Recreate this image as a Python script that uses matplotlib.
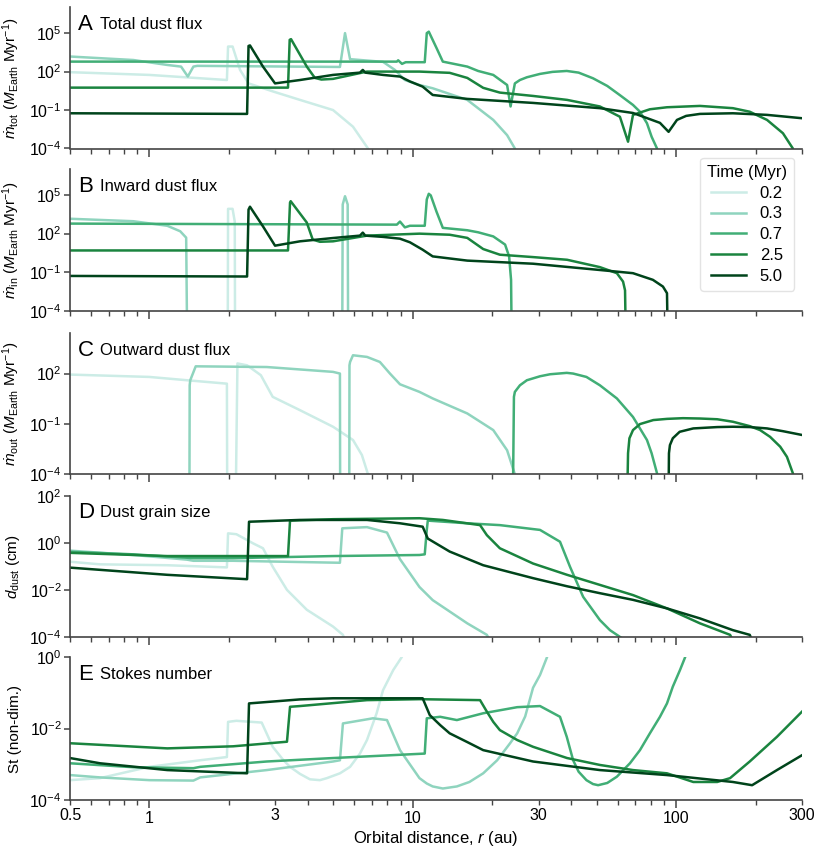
import matplotlib
matplotlib.use('Agg')
import matplotlib.pyplot as plt
from matplotlib.ticker import NullLocator, LogFormatterMathtext

plt.rcParams['font.family'] = ['Liberation Sans', 'DejaVu Sans']
plt.rcParams['mathtext.fontset'] = 'custom'
plt.rcParams['mathtext.rm'] = 'Liberation Sans'
plt.rcParams['mathtext.it'] = 'Liberation Sans:italic'
plt.rcParams['mathtext.bf'] = 'Liberation Sans:bold'

times = ['0.2', '0.3', '0.7', '2.5', '5.0']
colors = ['#ccece6', '#8fd4be', '#41ae76', '#1a843f', '#00441b']

# A: total dust flux (M_Earth / Myr)
r_tot_02 = [0.5, 1.0, 1.97, 1.99, 2.07, 2.21, 2.38, 2.95, 3.73, 4.98, 5.93, 6.76, 6.94]
tot_02 = [90, 55, 22, 9000, 9000, 135, 12, 2.8, 0.62, 0.1, 5e-3, 1e-4, 1e-5]
r_tot_03 = [0.5, 0.87, 1.17, 1.32, 1.40, 1.47, 1.52, 5.29, 5.53, 5.78, 7.71, 8.55, 9.33,
            10.6, 11.9, 16.1, 20.2, 22.8, 24.4, 25.0]
tot_03 = [1500, 800, 330, 245, 41, 245, 280, 230, 1e5, 930, 575, 135, 22,
          9, 5, 0.62, 0.017, 1.1e-3, 1e-4, 1e-5]
r_tot_07 = [0.5, 8.7, 8.8, 9.1, 9.4, 11.1, 11.3, 11.5, 12.3, 13.0, 16.1, 17.7, 20.2, 22.8,
            23.5, 24.4, 25.5, 27.1, 30.4, 33.9, 38.4, 42.6, 48.3, 54.7, 61.1, 68.5, 72.8,
            77.4, 80.6, 84.5, 86.0]
tot_07 = [600, 600, 760, 400, 540, 540, 1e5, 1.3e5, 7000, 600, 245, 112, 55, 9,
          0.19, 12, 22, 36, 66, 95, 112, 83, 30, 7.6, 1.45, 0.25, 0.074,
          9.3e-3, 8.3e-4, 1e-4, 1e-5]
r_tot_25 = [0.5, 3.36, 3.41, 3.45, 3.96, 4.25, 4.5, 4.98, 6.7, 10.6, 13.8, 16.1, 18.5, 21.4,
            28.6, 38.5, 51.3, 61.1, 65.6, 68.5, 79.4, 92.2, 123, 164, 190, 221, 254, 277, 282]
tot_25 = [5.6, 5.6, 3e4, 3.4e4, 245, 32, 24, 27, 100, 100, 80, 32, 5.4, 2.3,
          1.26, 0.62, 0.19, 0.03, 3.4e-4, 0.042, 0.115, 0.165, 0.21, 0.14, 0.074, 0.017,
          1.55e-3, 1e-4, 1e-5]
r_tot_50 = [0.5, 2.35, 2.38, 2.41, 2.70, 3.0, 3.73, 4.98, 6.3, 6.46, 6.6, 7.71, 8.94, 9.75,
            10.9, 11.9, 16.1, 28.6, 51.3, 68.5, 86.7, 93.5, 100.6, 109, 123, 164, 221, 300]
tot_50 = [0.056, 0.05, 1e4, 1.1e4, 245, 12, 22, 55, 83, 135, 83, 55, 41, 17,
          6.7, 1.5, 0.74, 0.36, 0.14, 0.059, 0.01, 2e-3, 0.017, 0.035, 0.05, 0.056, 0.042,
          0.023]

# B: inward dust flux
r_in_02 = [1.985, 1.99, 2.07, 2.11, 2.115]
in_02 = [1e-5, 8200, 8200, 850, 1e-5]
r_in_03 = [0.5, 0.87, 1.17, 1.31, 1.38, 1.39, 5.40, 5.42, 5.53, 5.66, 5.68]
in_03 = [1400, 900, 400, 150, 48, 1e-5, 1e-5, 1.8e4, 7.8e4, 1.8e4, 1e-5]
r_in_07 = [0.5, 8.7, 8.94, 9.33, 9.75, 11.1, 11.3, 11.5, 11.7, 12.3, 13.0, 16.1, 17.7,
           20.2, 22.4, 23.2, 23.6, 23.7]
in_07 = [590, 490, 850, 300, 400, 400, 4.4e4, 1.2e5, 9e4, 5000, 275, 180, 125,
         60, 14, 1.7, 0.026, 1e-5]
r_in_25 = [0.5, 3.36, 3.42, 3.44, 3.96, 4.17, 4.44, 4.98, 6.7, 10.6, 13.8, 16.1, 18.5,
           21.4, 28.6, 38.5, 51.3, 59.5, 62.8, 63.9, 64.2]
in_25 = [4.9, 4.9, 2.5e4, 3.2e4, 710, 34, 23, 25, 69, 98, 81, 46, 6.3,
         2.3, 1.5, 0.93, 0.25, 0.085, 0.019, 4e-3, 1e-5]
r_in_50 = [0.5, 2.35, 2.38, 2.41, 2.70, 3.0, 3.73, 4.98, 6.3, 6.46, 6.6, 7.71, 8.94, 9.75,
           10.9, 11.9, 16.1, 28.6, 51.3, 68.5, 81.5, 89.0, 92.2, 92.6]
in_50 = [0.052, 0.047, 7200, 1.2e4, 360, 11.5, 25, 45, 69, 118, 69, 55, 40, 21,
         5.6, 1.7, 0.8, 0.46, 0.15, 0.085, 0.026, 7.8e-3, 2.4e-3, 1e-5]

# C: outward dust flux
r_out_02 = [0.5, 1.0, 1.39, 1.97, 1.975, 2.13, 2.16, 2.35, 2.65, 2.94, 3.73, 4.98, 5.93,
            6.41, 6.76, 6.87]
out_02 = [87, 63, 40, 25, 1e-5, 1e-5, 400, 310, 80, 4.1, 0.66, 0.068, 0.011,
          1.4e-3, 1e-4, 1e-5]
r_out_03 = [1.42, 1.423, 1.43, 1.47, 1.50, 2.79, 4.98, 5.29, 5.30, 5.74, 5.75, 5.78, 5.93,
            6.7, 7.5, 8.19, 8.94, 10.6, 11.9, 16.1, 20.2, 22.8, 24.4, 24.6]
out_03 = [1e-5, 20, 40, 120, 270, 245, 126, 100, 1e-5, 1e-5, 310, 490, 1230,
          980, 490, 100, 23, 8.1, 3.3, 0.42, 0.043, 2.7e-3, 1e-4, 1e-5]
r_out_07 = [24.0, 24.2, 24.4, 25.5, 27.1, 30.4, 33.2, 38.4, 40.6, 45.6, 51.3, 59.5, 68.5,
            77.4, 80.6, 84.5, 85.0]
out_07 = [1e-5, 4.1, 8.1, 20, 40, 69, 91, 110, 100, 63, 20, 3.3, 0.26,
          0.011, 1.8e-3, 1.15e-4, 1e-5]
r_out_25 = [65.2, 65.6, 66.4, 68.5, 72.8, 81.8, 92.2, 106, 123, 143, 164, 190, 208, 227,
            248, 263, 277, 279]
out_25 = [1e-5, 1.8e-3, 0.014, 0.043, 0.098, 0.17, 0.20, 0.22, 0.21, 0.19, 0.135, 0.074,
          0.043, 0.017, 4.4e-3, 1.1e-3, 1.15e-4, 1e-5]
r_out_50 = [93.5, 93.8, 94.6, 97, 103, 116, 143, 164, 190, 221, 254, 300]
out_50 = [1e-5, 1.8e-3, 5.5e-3, 0.014, 0.034, 0.054, 0.065, 0.068, 0.065, 0.054, 0.037, 0.022]

# D: dust grain size (cm)
r_d_02 = [0.5, 0.65, 1.17, 1.97, 1.99, 2.14, 2.48, 2.70, 2.94, 3.33, 3.96, 4.98, 5.43, 5.68]
d_02 = [0.155, 0.12, 0.11, 0.089, 2.5, 2.3, 0.93, 0.58, 0.095, 9.8e-3, 1.4e-3, 2.7e-4,
        1.2e-4, 2.7e-5]
r_d_03 = [0.5, 0.87, 1.39, 1.47, 2.08, 5.29, 5.40, 6.7, 7.98, 8.94, 10.6, 11.9, 16.1, 19.1, 20.0]
d_03 = [0.46, 0.30, 0.19, 0.17, 0.17, 0.14, 4.1, 4.6, 2.7, 0.2, 0.013, 3.6e-3, 3.7e-4,
        1.2e-4, 4.5e-5]
r_d_07 = [0.5, 0.87, 1.47, 2.08, 4.98, 10.6, 11.1, 11.3, 11.4, 16.1, 21.4, 30.4, 36.2, 39.5,
          44.3, 51.3, 56.0, 63.9]
d_07 = [0.41, 0.32, 0.22, 0.22, 0.27, 0.30, 0.32, 3.5, 8.7, 6.7, 5.6, 3.5, 1.1, 0.095,
        5e-3, 5.1e-4, 1.9e-4, 7e-5]
r_d_25 = [0.5, 1.17, 3.36, 3.42, 4.98, 10.6, 13.0, 18.0, 19.1, 21.4, 28.6, 38.5, 51.3, 68.5,
          92.2, 123, 160, 164]
d_25 = [0.37, 0.27, 0.27, 8.7, 10, 11, 9.3, 5.6, 2.1, 0.58, 0.13, 0.043, 0.016, 5.9e-3,
        1.6e-3, 3.7e-4, 1.2e-4, 7e-5]
r_d_50 = [0.5, 1.17, 2.35, 2.39, 3.73, 6.7, 8.94, 10.9, 11.4, 13.8, 18.5, 28.6, 38.5, 51.3,
          68.5, 92.2, 123, 164, 190, 194]
d_50 = [0.087, 0.043, 0.028, 7.8, 9.3, 9.3, 6.7, 4.8, 1.5, 0.42, 0.11, 0.031, 0.014, 7.1e-3,
        3.7e-3, 1.6e-3, 6e-4, 1.9e-4, 1.2e-4, 7e-5]

# E: Stokes number
r_st_02 = [0.5, 0.65, 1.0, 1.56, 1.97, 1.99, 2.14, 2.67, 2.94, 3.23, 3.42, 3.73, 4.07, 4.44,
           4.72, 5.29, 5.78, 6.3, 6.7, 7.29, 7.71, 8.43, 9.07, 9.3]
st_02 = [3.6e-4, 4.1e-4, 8.5e-4, 1.3e-3, 1.6e-3, 0.0155, 0.0166, 0.0148, 3.1e-3, 1.3e-3,
         8.5e-4, 5.4e-4, 3.8e-4, 3.6e-4, 4.1e-4, 5.6e-4, 8.5e-4, 2e-3, 4.8e-3, 0.027,
         0.12, 0.44, 1.0, 1.6]
r_st_03 = [0.5, 0.65, 1.0, 1.47, 1.56, 2.79, 4.98, 5.29, 5.43, 7.06, 7.98, 8.94, 10.6, 11.3,
           11.9, 13.0, 14.7, 16.4, 18.5, 20.9, 23.4, 24.9, 26.7, 28.6, 30.4, 32.3, 33.0]
st_03 = [5e-4, 4.3e-4, 3.6e-4, 3.5e-4, 4.3e-4, 6.9e-4, 1.2e-3, 1.3e-3, 0.014, 0.0195, 0.0174,
         2.5e-3, 4.1e-4, 2.9e-4, 2.4e-4, 2.1e-4, 2.4e-4, 3.2e-4, 5.6e-4, 1.3e-3, 3.9e-3,
         7.4e-3, 0.022, 0.14, 0.32, 1.0, 1.6]
r_st_07 = [0.5, 0.87, 1.47, 1.56, 2.79, 4.98, 11.1, 11.3, 12.7, 14.7, 18.5, 24.9, 30.4, 36.2,
           38.4, 40.6, 42.6, 45.6, 48.3, 50.5, 54.7, 59.5, 66.7, 72.8, 79.4, 86.7, 92.2, 97.0,
           103.3, 108, 110]
st_07 = [1.07e-3, 8.3e-4, 7.8e-4, 8.5e-4, 1.2e-3, 1.5e-3, 2e-3, 0.0195, 0.0215, 0.0174, 0.027,
         0.04, 0.043, 0.0215, 5.9e-3, 1.3e-3, 6.2e-4, 3.6e-4, 2.8e-4, 2.6e-4, 3.0e-4, 4.5e-4,
         1.07e-3, 2.5e-3, 7.4e-3, 0.0215, 0.051, 0.15, 0.44, 1.0, 1.6]
r_st_25 = [0.5, 1.17, 2.08, 3.33, 3.42, 3.73, 6.7, 10.6, 18.0, 19.1, 20.2, 21.4, 24.9, 28.6,
           38.5, 51.3, 68.5, 92.2, 116, 143, 160, 190, 241, 300]
st_25 = [3.9e-3, 2.8e-3, 3.2e-3, 4.3e-3, 0.041, 0.043, 0.063, 0.067, 0.063, 0.030, 0.0155,
         9.1e-3, 4.8e-3, 3.1e-3, 1.5e-3, 9.6e-4, 6.9e-4, 5.6e-4, 3.2e-4, 3.2e-4, 4.1e-4,
         1.2e-3, 5.9e-3, 0.030]
r_st_50 = [0.5, 0.65, 1.17, 2.35, 2.39, 3.73, 4.98, 10.9, 11.6, 12.7, 13.8, 16.1, 18.5, 28.6,
           51.3, 92.2, 164, 194, 241, 300]
st_50 = [1.5e-3, 1.07e-3, 6.9e-4, 5.6e-4, 0.051, 0.066, 0.071, 0.071, 0.024, 0.0126, 7.4e-3,
         4.2e-3, 2.5e-3, 1.2e-3, 6.9e-4, 5e-4, 3.2e-4, 2.6e-4, 6.9e-4, 1.8e-3]

flux_unit = r' ($M_{\rm Earth}$ Myr$^{-1}$)'
panels = [
    ('A', 'Total dust flux', r'$\dot{m}_{\rm tot}$' + flux_unit, (1e-4, 1e7), [1e-4, 1e-1, 1e2, 1e5],
     [(r_tot_02, tot_02), (r_tot_03, tot_03), (r_tot_07, tot_07), (r_tot_25, tot_25), (r_tot_50, tot_50)]),
    ('B', 'Inward dust flux', r'$\dot{m}_{\rm in}$' + flux_unit, (1e-4, 1e7), [1e-4, 1e-1, 1e2, 1e5],
     [(r_in_02, in_02), (r_in_03, in_03), (r_in_07, in_07), (r_in_25, in_25), (r_in_50, in_50)]),
    ('C', 'Outward dust flux', r'$\dot{m}_{\rm out}$' + flux_unit, (1e-4, 2.5e4), [1e-4, 1e-1, 1e2],
     [(r_out_02, out_02), (r_out_03, out_03), (r_out_07, out_07), (r_out_25, out_25), (r_out_50, out_50)]),
    ('D', 'Dust grain size', r'$d_{\rm dust}$ (cm)', (1e-4, 1e2), [1e-4, 1e-2, 1e0, 1e2],
     [(r_d_02, d_02), (r_d_03, d_03), (r_d_07, d_07), (r_d_25, d_25), (r_d_50, d_50)]),
    ('E', 'Stokes number', 'St (non-dim.)', (1e-4, 1e0), [1e-4, 1e-2, 1e0],
     [(r_st_02, st_02), (r_st_03, st_03), (r_st_07, st_07), (r_st_25, st_25), (r_st_50, st_50)]),
]

# axes boxes in pixels (top, bottom) of an 822x852 figure
boxes = [(7.5, 148.5), (169, 311), (333.3, 474.3), (495.7, 636.7), (657.3, 800)]

fig = plt.figure(figsize=(8.22, 8.52), dpi=100)

minor_x = [0.5, 0.6, 0.7, 0.8, 0.9, 2, 3, 4, 5, 6, 7, 8, 9,
           20, 30, 40, 50, 60, 70, 80, 90, 200, 300]
minor_lab = ['0.5', '', '', '', '', '', '3', '', '', '', '', '', '',
             '', '30', '', '', '', '', '', '', '', '300']

axes = []
for i, (letter, title, ylab, ylim, yt, series) in enumerate(panels):
    top, bot = boxes[i]
    ax = fig.add_axes([70 / 822, 1 - bot / 852, 732 / 822, (bot - top) / 852])
    for (r, v), c, t in zip(series, colors, times):
        ax.plot(r, v, color=c, lw=1.8, label=t, solid_joinstyle='round')
    ax.set_xscale('log')
    ax.set_yscale('log')
    ax.set_xlim(0.5, 300)
    ax.set_ylim(*ylim)
    ax.set_yticks(yt)
    ax.yaxis.set_major_formatter(LogFormatterMathtext())
    ax.yaxis.set_minor_locator(NullLocator())
    ax.set_xticks([1, 10, 100])
    ax.set_xticks(minor_x, minor=True)
    if i == 4:
        ax.set_xticklabels(['1', '10', '100'])
        ax.set_xticklabels(minor_lab, minor=True)
        ax.set_xlabel('Orbital distance, $r$ (au)', fontsize=12, labelpad=2)
    else:
        ax.set_xticklabels([])
        ax.set_xticklabels([''] * len(minor_x), minor=True)
    for s in ['top', 'right']:
        ax.spines[s].set_visible(False)
    for s in ['left', 'bottom']:
        ax.spines[s].set_color('#444444')
        ax.spines[s].set_linewidth(1.2)
    ax.tick_params(which='both', direction='out', color='#444444', labelsize=11.5, pad=2)
    ax.tick_params(axis='x', which='major', length=6, width=1.1)
    ax.tick_params(axis='x', which='minor', length=3.5, width=1.0)
    ax.tick_params(axis='y', which='major', length=4, width=1.1)
    ax.set_ylabel(ylab, fontsize=11)
    ax.yaxis.set_label_coords(-0.066, 0.5)
    ax.text(0.011, 0.88, letter, transform=ax.transAxes, fontsize=16, ha='left', va='center')
    ax.text(0.041, 0.88, title, transform=ax.transAxes, fontsize=12, ha='left', va='center')
    axes.append(ax)

leg = axes[1].legend(title='Time (Myr)', loc='upper right', bbox_to_anchor=(0.989, 1.077),
                     borderaxespad=0, fontsize=12, title_fontsize=12, labelspacing=0.35,
                     handlelength=2.1, frameon=True, fancybox=True)
leg.get_frame().set_edgecolor('#dddddd')
leg.set_zorder(10)

fig.savefig('out.png', dpi=100)
